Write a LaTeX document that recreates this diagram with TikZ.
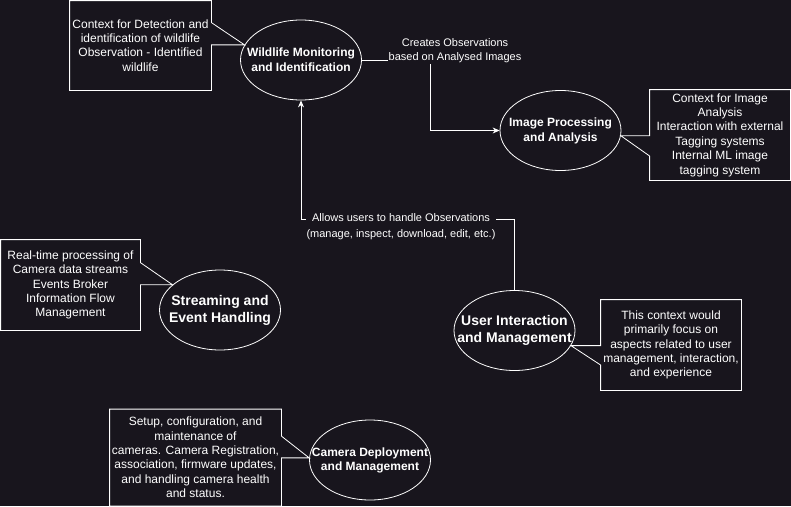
\documentclass[tikz,border=0pt]{standalone}
\usepackage{fontspec}
\setmainfont{Liberation Sans}
\usetikzlibrary{shapes.geometric}
\usetikzlibrary{arrows.meta}
\tikzset{>={Stealth[length=7pt,width=6pt]}}
\definecolor{bg}{RGB}{24,21,29}

\begin{document}
\begin{tikzpicture}[x=1pt,y=-1pt,
    color=white, line width=0.8pt,
    proc/.style={ellipse, draw, minimum width=121pt, minimum height=80pt, inner sep=0pt},
    procname/.style={align=center, inner sep=0pt, font=\bfseries\fontsize{12}{15}\selectfont},
    ctx/.style={align=center, inner sep=0pt, font=\fontsize{12}{14.4}\selectfont},
    flowlabel/.style={align=center, fill=bg, inner sep=1pt, font=\fontsize{11}{14}\selectfont}
  ]
  \path[fill=bg, use as bounding box] (0,0) rectangle (791,506);

  % bounded contexts
  \node[proc] (wild) at (301,60) {};
  \node[procname] (wildname) at (wild) {Wildlife Monitoring\\and Identification};
  \node[proc] (img) at (560.5,130.5) {};
  \node[procname] (imgname) at (img) {Image Processing\\and Analysis};
  \node[proc] (stream) at (220,310) {};
  \node[procname, font=\bfseries\fontsize{14}{17}\selectfont] (streamname) at (stream) {Streaming and\\Event Handling};
  \node[proc] (user) at (514.5,330.5) {};
  \node[procname, font=\bfseries\fontsize{14}{17}\selectfont] (username) at (user) {User Interaction\\and Management};
  \node[proc] (cam) at (370,460) {};
  \node[procname, font=\bfseries\fontsize{12}{14}\selectfont] (camname) at (cam) {Camera Deployment\\and Management};

  % callouts
  \node[ctx, minimum width=141pt, minimum height=89pt] (ctxwild) at (140.5,45.5)
    {Context for Detection and\\identification of wildlife\\Observation - Identified\\wildlife};
  \draw (ctxwild.north west) -- (ctxwild.north east) -- ([yshift=-22pt]ctxwild.north east)
    -- (wild.165) -- (ctxwild.east |- wild.165) -- (ctxwild.south east) -- (ctxwild.south west) -- cycle;

  \node[ctx, minimum width=140pt, minimum height=90pt] (ctximg) at (720,135)
    {Context for Image\\Analysis\\Interaction with external\\Tagging systems\\Internal ML image\\tagging system};
  \draw (ctximg.north west) -- (ctximg.north east) -- (ctximg.south east) -- (ctximg.south west)
    -- ([yshift=-21pt]ctximg.west) -- (img.-5) -- (ctximg.west |- img.-5) -- cycle;

  \node[ctx, minimum width=139pt, minimum height=90pt] (ctxstream) at (70.5,285)
    {Real-time processing of\\Camera data streams\\Events Broker\\Information Flow\\Management};
  \draw (ctxstream.north west) -- (ctxstream.north east) -- ([yshift=-23pt]ctxstream.north east)
    -- (stream.152) -- (ctxstream.east |- stream.152) -- (ctxstream.south east) -- (ctxstream.south west) -- cycle;

  \node[ctx, minimum width=140pt, minimum height=90pt] (ctxuser) at (671,345)
    {This context would\\primarily focus on\\aspects related to user\\management, interaction,\\and experience};
  \draw (ctxuser.north west) -- (ctxuser.north east) -- (ctxuser.south east) -- (ctxuser.south west)
    -- ([yshift=-20pt]ctxuser.west) -- (user.-15) -- (ctxuser.west |- user.-15) -- cycle;

  \node[ctx, minimum width=171pt, minimum height=96pt] (ctxcam) at (195.5,457.5)
    {Setup, configuration, and\\maintenance of\\cameras. Camera Registration,\\association, firmware updates,\\and handling camera health\\and status.};
  \draw (ctxcam.north west) -- (ctxcam.north east) -- ([yshift=-27pt]ctxcam.north east)
    -- (cam.178) -- (ctxcam.east |- cam.178) -- (ctxcam.south east) -- (ctxcam.south west) -- cycle;

  % relations
  \coordinate (bendA) at (430,0);
  \draw[->] (wild.east) -| (bendA |- img.west) -- (img.west);
  \node[flowlabel] (lblcreates) at (455,51) {Creates Observations\\based on Analysed Images};

  \coordinate (bendB) at (0,219);
  \draw[->] (user.north) |- (wild.south |- bendB) -- (wild.south);
  \node[flowlabel] (lblallows) at (401,226.5) {Allows users to handle Observations\\[2.5pt](manage, inspect, download, edit, etc.)};
\end{tikzpicture}
\end{document}
